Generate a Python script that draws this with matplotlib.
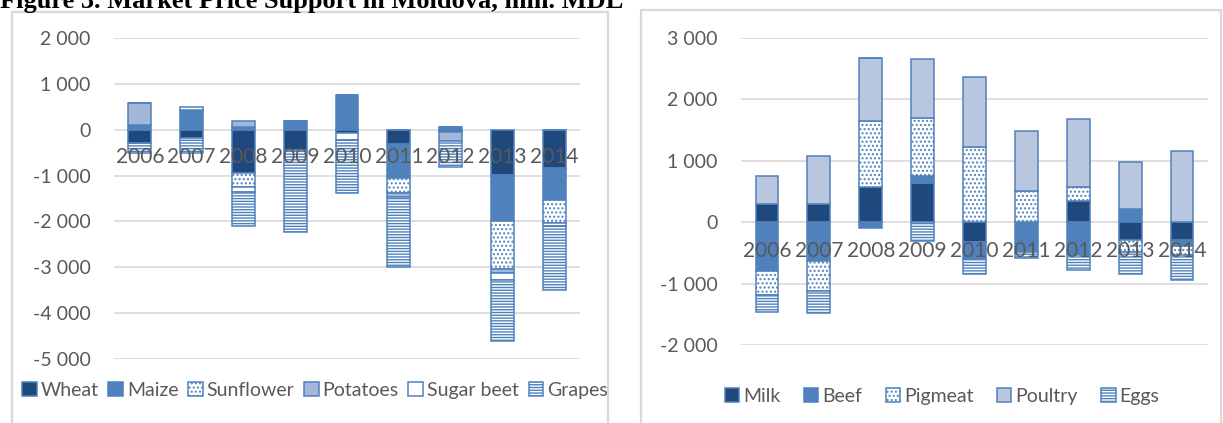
import matplotlib.pyplot as plt
from matplotlib.patches import Rectangle
from matplotlib.ticker import FuncFormatter, MultipleLocator
import numpy as np

plt.rcParams["font.family"] = ["Lato", "DejaVu Sans"]
plt.rcParams["hatch.linewidth"] = 1.0

years = ["2006", "2007", "2008", "2009", "2010", "2011", "2012", "2013", "2014"]

# crops (left panel), mln. MDL
wheat = [-300, -180, -950, -450, -80, -310, -50, -980, -830]
maize = [100, 440, 50, 200, 750, -740, 70, -1020, -700]
sunflower = [0, 0, -300, 0, 0, -330, 0, -1040, -510]
potatoes = [480, 0, 130, 0, 0, -80, -200, -80, 0]
sugar_beet = [0, 60, -110, 0, -150, 0, 0, -160, -60]
grapes = [-200, -320, -740, -1780, -1150, -1540, -570, -1320, -1400]

# livestock (right panel), mln. MDL
milk = [300, 300, 580, 640, -320, 0, 340, -290, -290]
beef = [-790, -640, -100, 120, -280, -490, -530, 210, -100]
pigmeat = [-400, -480, 1070, 930, 1230, 500, 240, -200, -150]
poultry = [460, 780, 1030, 970, 1140, 990, 1100, 775, 1160]
eggs = [-280, -360, 0, -300, -250, -90, -250, -350, -400]

DARK = "#1f487c"
MID = "#4f81bd"
LIGHT_L = "#a3b7da"
LIGHT_R = "#b9c6df"
TXT = "#595959"
GRID = "#d9d9d9"

left_series = [
    ("Wheat", wheat, dict(color=DARK)),
    ("Maize", maize, dict(color=MID)),
    ("Sunflower", sunflower, dict(color="white", hatch="....")),
    ("Potatoes", potatoes, dict(color=LIGHT_L)),
    ("Sugar beet", sugar_beet, dict(color="white")),
    ("Grapes", grapes, dict(color="white", hatch="------")),
]
right_series = [
    ("Milk", milk, dict(color=DARK)),
    ("Beef", beef, dict(color=MID)),
    ("Pigmeat", pigmeat, dict(color="white", hatch="....")),
    ("Poultry", poultry, dict(color=LIGHT_R)),
    ("Eggs", eggs, dict(color="white", hatch="------")),
]

W, H = 1223, 423
fig = plt.figure(figsize=(W / 100, H / 100), dpi=100)


def px_axes(x0, y0, x1, y1):
    return fig.add_axes([x0 / W, 1 - y1 / H, (x1 - x0) / W, (y1 - y0) / H])


def fmt(v, pos):
    return f"{int(v):,}".replace(",", " ")


def draw_panel(ax, series, ylim, step, label_off):
    x = np.arange(len(years))
    pos = np.zeros(len(years))
    neg = np.zeros(len(years))
    handles = []
    for name, vals, st in series:
        v = np.array(vals, dtype=float)
        bottom = np.where(v >= 0, pos, neg)
        b = ax.bar(x, v, 0.44, bottom=bottom, color=st["color"], edgecolor=MID,
                   linewidth=1.1, hatch=st.get("hatch"), label=name, zorder=2)
        handles.append(b)
        pos = pos + np.where(v > 0, v, 0)
        neg = neg + np.where(v < 0, v, 0)
    ax.set_xlim(-0.5, len(years) - 0.5)
    ax.set_ylim(*ylim)
    ax.yaxis.set_major_locator(MultipleLocator(step))
    ax.yaxis.set_major_formatter(FuncFormatter(fmt))
    ax.grid(axis="y", color=GRID, linewidth=1.2)
    ax.set_axisbelow(True)
    for s in ["top", "right", "left", "bottom"]:
        ax.spines[s].set_visible(False)
    ax.set_xticks([])
    ax.tick_params(axis="y", length=0, pad=17, labelsize=14, labelcolor=TXT)
    # category labels sit just under the zero line, over the bars
    for i, yr in enumerate(years):
        ax.annotate(yr, (i, 0), xytext=(0, -label_off), textcoords="offset points",
                    ha="center", va="center", fontsize=15, color=TXT, zorder=6)
    return handles


axL = px_axes(114, 38, 580, 359)
hL = draw_panel(axL, left_series, (-5000, 2000), 1000, 19.5)
axR = px_axes(741, 38, 1208, 345)
hR = draw_panel(axR, right_series, (-2000, 3000), 1000, 20.5)

fig.legend(handles=hL, loc="center", bbox_to_anchor=(315 / W, 1 - 390 / H), ncol=6,
           frameon=False, fontsize=14, labelcolor=TXT, handlelength=0.75,
           handleheight=0.75, handletextpad=0.2, columnspacing=0.5)
fig.legend(handles=hR, loc="center", bbox_to_anchor=(942 / W, 1 - 396 / H), ncol=5,
           frameon=False, fontsize=14, labelcolor=TXT, handlelength=0.75,
           handleheight=0.75, handletextpad=0.2, columnspacing=1.2)

# chart frames
fig.patches.append(Rectangle((12 / W, -0.05), (608 - 12) / W, 1.05 - 12 / H,
                             transform=fig.transFigure, fill=False,
                             edgecolor=GRID, linewidth=1.6))
fig.patches.append(Rectangle((641 / W, -0.05), (1221 - 641) / W, 1.05 - 10 / H,
                             transform=fig.transFigure, fill=False,
                             edgecolor=GRID, linewidth=1.6))

fig.text(0, 1 - 8 / H, "Figure 3. Market Price Support in Moldova, mln. MDL",
         family="Liberation Serif", weight="bold", fontsize=19, va="baseline",
         ha="left", color="black")

fig.savefig("out.png", dpi=100)
